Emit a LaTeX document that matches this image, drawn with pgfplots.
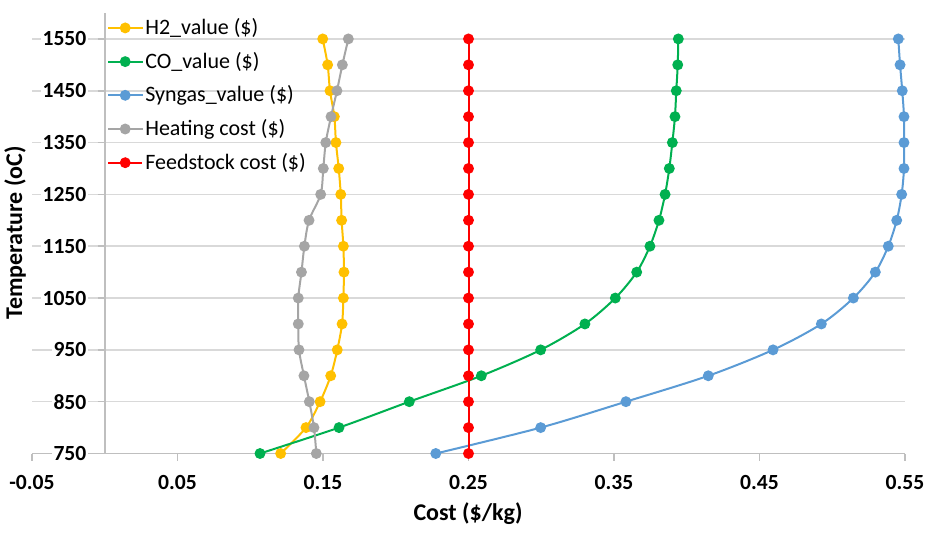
\documentclass[border=0pt]{standalone}
\usepackage{pgfplots}
\pgfplotsset{compat=1.18}
\usepackage{fontspec}
\setmainfont{Carlito}
\definecolor{cH}{HTML}{FFC000}
\definecolor{cCO}{HTML}{00B050}
\definecolor{cSy}{HTML}{5B9BD5}
\definecolor{cHe}{HTML}{A5A5A5}
\definecolor{cFe}{HTML}{FF0000}
\definecolor{gridc}{HTML}{D9D9D9}
\definecolor{axc}{HTML}{BFBFBF}
\begin{document}
\begin{tikzpicture}
\path[use as bounding box] (0,0) rectangle (467.5pt,266pt);
\begin{axis}[
  at={(16pt,39.25pt)}, anchor=south west,
  scale only axis, width=436.5pt, height=220.25pt,
  xmin=-0.05, xmax=0.55, ymin=750, ymax=1600,
  axis x line=bottom, axis y line=middle,
  axis line style={-, draw=axc, line width=0.8pt},
  hide obscured x ticks=false, hide obscured y ticks=false,
  xtick={-0.05,0.05,0.15,0.25,0.35,0.45,0.55},
  ytick={750,850,950,1050,1150,1250,1350,1450,1550},
  yticklabels={750,850,950,1050,1150,1250,1350,1450,1550},
  xticklabels={-0.05,0.05,0.15,0.25,0.35,0.45,0.55},
  scaled x ticks=false,
  /pgf/number format/1000 sep={},
  /pgf/number format/assume math mode=true,
  tick align=outside, major tick length=3.5pt,
  tick style={draw=axc, line width=0.8pt},
  ymajorgrids, grid style={draw=gridc, line width=0.8pt},
  ticklabel style={font=\fontsize{10.8}{12}\selectfont\bfseries},
  yticklabel style={fill=white, inner sep=1pt, xshift=-4.5pt},
  xticklabel style={yshift=-4pt},
  clip=false,
  legend style={at={(axis cs:0,1602)}, anchor=north west, draw=none, fill=none,
    font=\fontsize{11}{12}\selectfont, row sep=3.3pt, inner sep=1pt,
    legend cell align=left, nodes={inner xsep=1pt}},
  every axis plot/.append style={line width=1pt, mark=*, mark size=2.2pt},
]
\addplot[color=cH, smooth, mark options={fill=cH}] coordinates {
(0.1209,750)(0.1383,800)(0.1480,850)(0.1553,900)(0.1598,950)(0.1631,1000)(0.1640,1050)(0.1644,1100)(0.1640,1150)(0.1628,1200)(0.1622,1250)(0.1608,1300)(0.1589,1350)(0.1578,1400)(0.1548,1450)(0.1532,1500)(0.1498,1550)};
\addlegendentry{H2\_value (\$)}
\addplot[color=cCO, smooth, mark options={fill=cCO}] coordinates {
(0.1067,750)(0.1610,800)(0.2093,850)(0.2588,900)(0.2996,950)(0.3300,1000)(0.3509,1050)(0.3656,1100)(0.3747,1150)(0.3809,1200)(0.3851,1250)(0.3880,1300)(0.3901,1350)(0.3919,1400)(0.3928,1450)(0.3938,1500)(0.3942,1550)};
\addlegendentry{CO\_value (\$)}
\addplot[color=cSy, smooth, mark options={fill=cSy}] coordinates {
(0.2275,750)(0.2996,800)(0.3582,850)(0.4148,900)(0.4593,950)(0.4925,1000)(0.5145,1050)(0.5296,1100)(0.5385,1150)(0.5443,1200)(0.5477,1250)(0.5493,1300)(0.5493,1350)(0.5493,1400)(0.5481,1450)(0.5466,1500)(0.5454,1550)};
\addlegendentry{Syngas\_value (\$)}
\addplot[color=cHe, smooth, mark options={fill=cHe}] coordinates {
(0.1454,750)(0.1438,800)(0.1406,850)(0.1369,900)(0.1335,950)(0.1330,1000)(0.1330,1050)(0.1352,1100)(0.1372,1150)(0.1404,1200)(0.1484,1250)(0.1502,1300)(0.1519,1350)(0.1555,1400)(0.1596,1450)(0.1633,1500)(0.1674,1550)};
\addlegendentry{Heating cost (\$)}
\addplot[color=cFe, mark options={fill=cFe}] coordinates {
(0.25,750)(0.25,800)(0.25,850)(0.25,900)(0.25,950)(0.25,1000)(0.25,1050)(0.25,1100)(0.25,1150)(0.25,1200)(0.25,1250)(0.25,1300)(0.25,1350)(0.25,1400)(0.25,1450)(0.25,1500)(0.25,1550)};
\addlegendentry{Feedstock cost (\$)}
\end{axis}
\node[rotate=90, font=\fontsize{12}{14}\selectfont\bfseries] at (7.5pt,149.5pt) {Temperature (oC)};
\node[font=\fontsize{12}{14}\selectfont\bfseries] at (234pt,9pt) {Cost (\$/kg)};
\end{tikzpicture}
\end{document}
